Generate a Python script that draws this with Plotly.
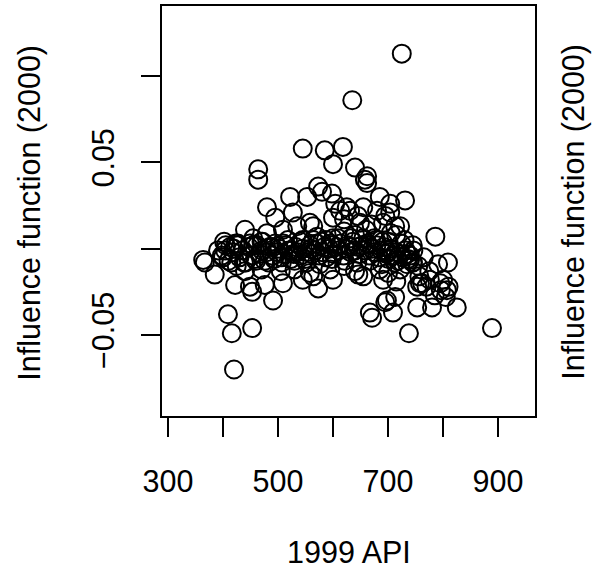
import plotly.graph_objects as go

# ---- data (1999 API vs influence function for 2000) ----
api_outer = [725,635,545,585,618,600,640,662,658,662,464,464,480,495,522,527,553,573,580,598,
             604,625,631,655,685,704,731,704,695,649,691,713,613,558,535,571,440,480,509,564,786,722,
             364,385,422,449,453,476,491,509,558,573,409,416,453,420,564,595,655,646,685,691,
             722,667,671,698,713,709,753,780,825,738,889,753,807,762,795,740,746,809,791,776,
             800,758,695,404,413,427,391,400,367]
infl_outer = [0.113,0.086,0.058,0.057,0.059,0.049,0.047,0.042,0.040,0.038,0.046,0.040,0.024,0.018,0.030,0.021,0.030,0.036,0.033,0.032,
              0.026,0.024,0.022,0.024,0.030,0.026,0.028,0.021,0.019,0.015,0.015,0.013,0.022,0.015,0.013,0.007,0.011,0.009,0.011,0.013,0.007,0.013,
              -0.0065,-0.015,-0.021,-0.022,-0.025,-0.021,-0.030,-0.020,-0.014,-0.023,-0.038,-0.049,-0.046,-0.070,-0.016,-0.012,-0.016,-0.015,-0.012,-0.018,
              -0.012,-0.037,-0.040,-0.030,-0.028,-0.037,-0.034,-0.034,-0.034,-0.049,-0.046,-0.022,-0.024,-0.020,-0.020,-0.0065,-0.001,-0.008,-0.009,-0.018,
              -0.018,-0.020,-0.031,-0.001,0.001,0.002,-0.001,-0.005,-0.008]

api_band = [398,405,410,418,423,430,436,441,447,452,458,462,467,471,476,480,485,489,493,498,
            502,506,510,515,519,523,528,532,536,541,545,549,553,558,562,567,571,575,580,584,
            588,593,597,601,606,610,614,619,623,627,632,636,640,645,649,653,658,662,666,671,
            675,679,684,688,692,697,701,705,710,714,718,723,727,732,736,740,745]
infl_band = [-0.004,0.002,-0.007,-0.002,0.003,-0.005,-0.001,-0.008,0.001,-0.004,
             -0.006,0.002,-0.003,-0.001,-0.007,-0.002,0.001,-0.004,-0.006,-0.002,
             0.000,-0.005,-0.003,0.002,-0.001,-0.006,-0.003,0.001,-0.002,-0.004,
             0.000,-0.006,-0.002,0.002,-0.003,-0.001,0.003,-0.004,-0.002,0.001,
             -0.005,0.000,0.002,-0.003,0.001,-0.001,0.003,-0.004,0.000,0.002,
             -0.002,0.004,-0.001,0.001,-0.003,0.002,-0.001,0.003,-0.004,0.000,
             -0.002,0.002,-0.005,-0.001,0.001,-0.003,-0.006,0.000,-0.004,-0.002,
             -0.007,-0.003,-0.005,-0.001,-0.006,-0.004,-0.008]

api_band2 = [402,415,427,438,449,460,472,483,495,507,518,530,541,552,564,576,587,598,609,621,
             632,644,655,667,678,689,701,712,724,735,420,455,490,525,560,595,630,665,700,735]
infl_band2 = [0.004,-0.008,0.003,-0.008,0.003,-0.007,0.004,-0.008,0.003,-0.008,
              0.005,-0.007,0.004,-0.008,0.005,-0.009,0.005,-0.006,0.006,-0.007,
              0.006,-0.008,0.006,-0.007,0.005,-0.009,0.004,-0.008,0.003,-0.009,
              0.000,0.002,0.001,-0.001,0.000,0.003,0.001,0.002,-0.002,-0.003]

api_extra = [757,770,785,796,810,805,775,765,755,745,730,715,745,620,640,660,675,690,705,600,
             580,545,510,470,455,620,645,670,600,680,530,545,600,620,640,505,470,440,425,700,715]
infl_extra = [-0.016,-0.022,-0.027,-0.024,-0.022,-0.028,-0.013,-0.005,-0.010,-0.008,
              0.005,0.008,0.002,0.010,0.008,0.011,0.006,0.004,0.009,0.006,
              0.004,0.005,0.003,0.004,0.006,0.017,0.019,0.014,0.018,0.022,
              -0.012,-0.018,-0.018,-0.010,-0.013,-0.013,-0.012,-0.013,-0.010,-0.014,-0.019]

x_ticks = [300, 400, 500, 600, 700, 800, 900]
x_ticklabels = ["300", "", "500", "", "700", "", "900"]
y_ticks = [-0.05, 0.0, 0.05, 0.10]
y_ticklabels = ["\u22120.05", "", "0.05", ""]

api99 = api_outer + api_band + api_band2 + api_extra
infl = infl_outer + infl_band + infl_band2 + infl_extra
assert len(api99) == len(infl)

FONT = "Liberation Sans, Arial, Helvetica, sans-serif"
FS = 30.5

fig = go.Figure(go.Scatter(
    x=api99, y=infl, mode="markers",
    marker=dict(symbol="circle-open", size=18, color="black", line=dict(width=2, color="black")),
    hoverinfo="skip", showlegend=False,
))

fig.update_layout(
    width=594, height=571, autosize=False,
    margin=dict(l=161, r=58, t=5, b=154, pad=0),
    paper_bgcolor="white", plot_bgcolor="white",
    font=dict(family=FONT, size=FS, color="black"),
    xaxis=dict(range=[287.3, 969], tickmode="array", tickvals=x_ticks, ticktext=x_ticklabels,
               ticks="outside", ticklen=19, tickwidth=2, tickcolor="black",
               showgrid=False, zeroline=False, showline=False,
               tickfont=dict(family=FONT, size=FS, color="black"), ticklabelstandoff=18),
    yaxis=dict(range=[-0.0975, 0.1412], tickmode="array", tickvals=y_ticks, ticktext=y_ticklabels,
               ticks="outside", ticklen=19, tickwidth=2, tickcolor="black", tickangle=-90,
               showgrid=False, zeroline=False, showline=False,
               tickfont=dict(family=FONT, size=FS, color="black"), ticklabelstandoff=15),
    shapes=[dict(type="rect", xref="paper", yref="paper", x0=0, x1=1, y0=0, y1=1,
                 line=dict(color="black", width=2), fillcolor="rgba(0,0,0,0)", layer="above")],
    annotations=[
        dict(text="1999 API", xref="paper", yref="paper", x=0.5, y=-0.3277,
             xanchor="center", yanchor="middle", showarrow=False,
             font=dict(family=FONT, size=FS, color="black")),
        dict(text="Influence function (2000)", xref="paper", yref="paper", x=-0.3507, y=0.497,
             xanchor="center", yanchor="middle", textangle=-90, showarrow=False,
             font=dict(family=FONT, size=FS, color="black")),
        dict(text="Influence function (2000)", xref="paper", yref="paper", x=1.1, y=0.497,
             xanchor="center", yanchor="middle", textangle=-90, showarrow=False,
             font=dict(family=FONT, size=FS, color="black")),
    ],
)

fig.write_html("out.html", config={"displayModeBar": False})
